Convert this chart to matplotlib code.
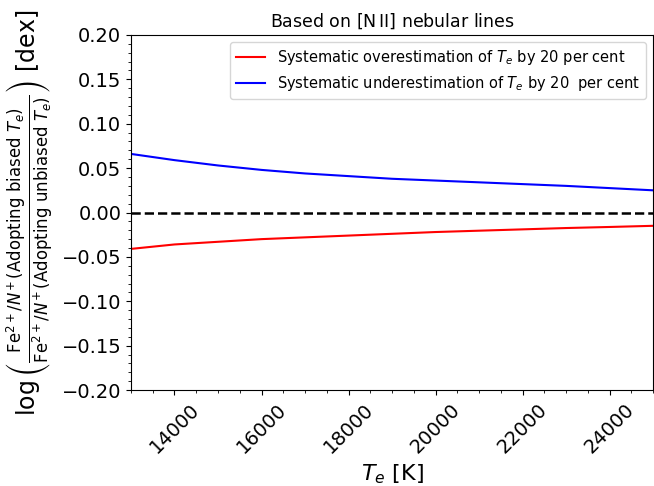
import matplotlib
matplotlib.use('Agg')
import matplotlib.pyplot as plt
from matplotlib.ticker import MultipleLocator, FuncFormatter

# Electron temperature grid (K)
te = [13000, 14000, 15000, 16000, 17000, 18000, 19000,
      20000, 21000, 22000, 23000, 24000, 25000]

# log ratio of Fe2+/N+ abundances for biased vs unbiased Te (dex)
over_20 = [-0.041, -0.036, -0.033, -0.030, -0.028, -0.026, -0.024,
           -0.022, -0.0205, -0.019, -0.0175, -0.0163, -0.015]
under_20 = [0.066, 0.059, 0.053, 0.048, 0.044, 0.041, 0.038,
            0.036, 0.034, 0.032, 0.030, 0.0275, 0.025]


def dex_fmt(v, pos):
    s = '%.2f' % abs(v)
    return ('\u2212' + s) if v < -1e-9 else s


fig = plt.figure(figsize=(6.54, 4.86), dpi=100)
ax = fig.add_axes([0.2003, 0.1975, 0.7982, 0.7305])

ax.plot(te, over_20, color='red', lw=1.5,
        label=r'Systematic overestimation of $T_e$ by 20 per cent')
ax.plot(te, under_20, color='blue', lw=1.5,
        label=r'Systematic underestimation of $T_e$ by 20  per cent')
ax.axhline(0, color='black', ls='--', lw=1.8)

ax.set_xlim(13000, 25000)
ax.set_ylim(-0.20, 0.20)
ax.xaxis.set_major_locator(MultipleLocator(2000))
ax.xaxis.set_minor_locator(MultipleLocator(500))
ax.yaxis.set_major_locator(MultipleLocator(0.05))
ax.yaxis.set_minor_locator(MultipleLocator(0.01))
ax.yaxis.set_major_formatter(FuncFormatter(dex_fmt))
ax.tick_params(axis='both', which='major', labelsize=14)
plt.setp(ax.get_xticklabels(), rotation=45)

ax.set_xlabel(r'$T_e$ [K]', fontsize=16)
ax.set_ylabel(r'$\log\left(\frac{\mathrm{Fe}^{2+}/N^{+}\,\mathrm{(Adopting\ biased}\ T_e)}'
              r'{\mathrm{Fe}^{2+}/N^{+}\,\mathrm{(Adopting\ unbiased}\ T_e)}\right)$ [dex]',
              fontsize=17)
ax.set_title(r'Based on [N$\,$II] nebular lines', fontsize=12.5)
ax.legend(loc='upper right', fontsize=10.5)

fig.savefig('out.png', dpi=100)
